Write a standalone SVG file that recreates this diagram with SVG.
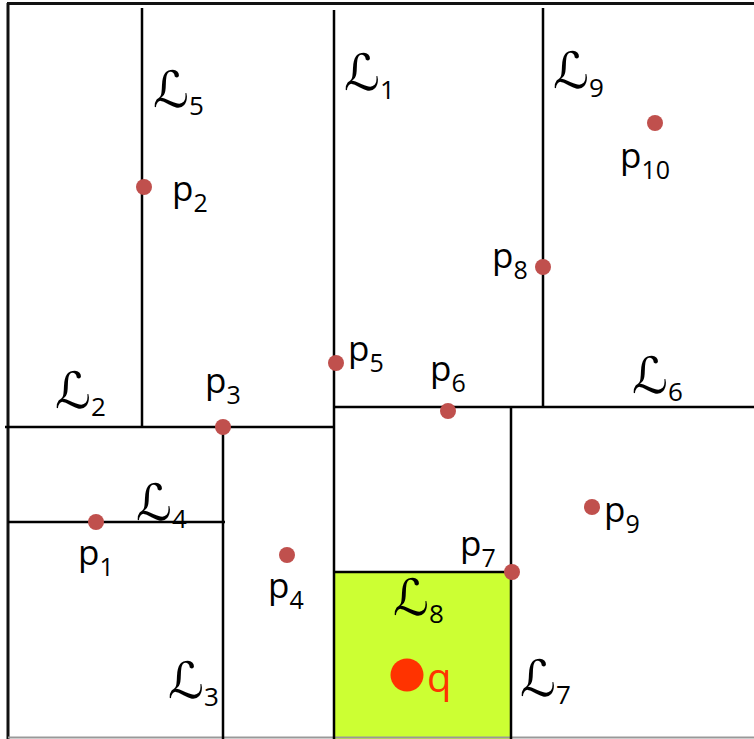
<svg xmlns="http://www.w3.org/2000/svg" width="754" height="739" viewBox="0 0 754 739">
<style>
.ln{stroke:#000;stroke-width:2.5;fill:none}
.pt{fill:#C0504D}
.lb{font-family:"Open Sans","Liberation Sans",sans-serif;font-size:35px;fill:#000}
.sub{font-size:25px}
.q{font-family:"Open Sans","Liberation Sans",sans-serif;font-size:40px;fill:#FF3300}
.L{font-family:"DejaVu Serif","DejaVu Sans",serif;font-style:italic;font-size:50px;fill:#000}
.Ls{font-family:"Open Sans","Liberation Sans",sans-serif;font-style:normal;font-size:26px}
</style>
<rect x="0" y="0" width="754" height="739" fill="#fff"/>
<rect id="cell" x="334" y="572" width="177" height="167" fill="#CCFF33"/>
<g id="frame">
<line x1="7" y1="3.5" x2="754" y2="3.5" stroke="#111" stroke-width="3"/>
<line x1="8" y1="3" x2="8" y2="739" stroke="#111" stroke-width="3"/>
<line x1="8" y1="737.5" x2="754" y2="737.5" stroke="#999" stroke-width="2"/>
</g>
<g id="lines">
<line class="ln" x1="142" y1="8" x2="142" y2="428"/>
<line class="ln" x1="334" y1="10" x2="334" y2="739"/>
<line class="ln" x1="543" y1="8" x2="543" y2="408"/>
<line class="ln" x1="223" y1="427" x2="223" y2="739"/>
<line class="ln" x1="511" y1="408" x2="511" y2="739"/>
<line class="ln" x1="5" y1="427" x2="334" y2="427"/>
<line class="ln" x1="334" y1="407" x2="754" y2="407"/>
<line class="ln" x1="8" y1="522" x2="225" y2="522"/>
<line class="ln" x1="334" y1="572" x2="511" y2="572"/>
</g>
<g id="points">
<circle class="pt" cx="144" cy="187" r="8"/>
<circle class="pt" cx="336" cy="363" r="8"/>
<circle class="pt" cx="448" cy="411" r="8"/>
<circle class="pt" cx="223" cy="427" r="8"/>
<circle class="pt" cx="96" cy="522" r="8"/>
<circle class="pt" cx="287" cy="555" r="8"/>
<circle class="pt" cx="512" cy="572" r="8"/>
<circle class="pt" cx="592" cy="507" r="8"/>
<circle class="pt" cx="543" cy="267" r="8"/>
<circle class="pt" cx="655" cy="123" r="8"/>
<circle cx="407" cy="675" r="16.5" fill="#FF3300"/>
</g>
<g id="point-labels">
<text class="lb" x="172" y="201">p<tspan class="sub" dy="11">2</tspan></text>
<text class="lb" x="620" y="168">p<tspan class="sub" dy="11">10</tspan></text>
<text class="lb" x="492" y="268">p<tspan class="sub" dy="11">8</tspan></text>
<text class="lb" x="348" y="361">p<tspan class="sub" dy="11">5</tspan></text>
<text class="lb" x="430" y="381">p<tspan class="sub" dy="11">6</tspan></text>
<text class="lb" x="205" y="393">p<tspan class="sub" dy="11">3</tspan></text>
<text class="lb" x="78" y="565">p<tspan class="sub" dy="11">1</tspan></text>
<text class="lb" x="268" y="598">p<tspan class="sub" dy="11">4</tspan></text>
<text class="lb" x="604" y="522">p<tspan class="sub" dy="11">9</tspan></text>
<text class="lb" x="460" y="556">p<tspan class="sub" dy="11">7</tspan></text>
<text class="q" x="427" y="692">q</text>
</g>
<g id="line-labels">
<text class="L" x="153" y="107">ℒ<tspan class="Ls" dy="8">5</tspan></text>
<text class="L" x="344" y="90">ℒ<tspan class="Ls" dy="9">1</tspan></text>
<text class="L" x="553" y="88">ℒ<tspan class="Ls" dy="9">9</tspan></text>
<text class="L" x="632" y="393">ℒ<tspan class="Ls" dy="8">6</tspan></text>
<text class="L" x="55" y="408">ℒ<tspan class="Ls" dy="8">2</tspan></text>
<text class="L" x="136" y="520">ℒ<tspan class="Ls" dy="8">4</tspan></text>
<text class="L" x="393" y="615">ℒ<tspan class="Ls" dy="8">8</tspan></text>
<text class="L" x="168" y="698">ℒ<tspan class="Ls" dy="8">3</tspan></text>
<text class="L" x="520" y="696">ℒ<tspan class="Ls" dy="8">7</tspan></text>
</g>
</svg>
